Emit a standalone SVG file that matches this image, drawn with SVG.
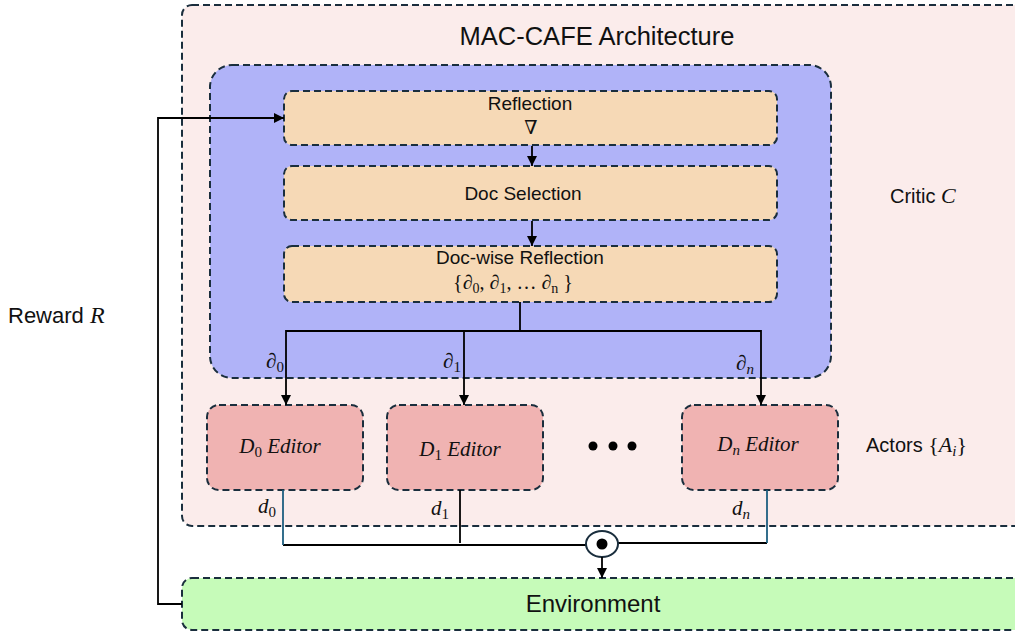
<svg xmlns="http://www.w3.org/2000/svg" width="1015" height="633" viewBox="0 0 1015 633">
<defs>
<marker id="ah" viewBox="0 0 10 10" refX="10" refY="5" markerWidth="10" markerHeight="10" markerUnits="userSpaceOnUse" orient="auto"><path d="M0,0 L10,5 L0,10 z" fill="#000"/></marker>
<style>
.box{stroke:#1a2e3d;stroke-width:2;stroke-dasharray:7 4}
.t{font-family:"Liberation Sans",Arial,sans-serif;fill:#111}
.m{font-family:"Liberation Serif","DejaVu Serif",serif;font-style:italic;fill:#111}
.mr{font-family:"Liberation Serif","DejaVu Serif",serif;fill:#111}
.ln{fill:none;stroke:#000;stroke-width:1.8}
.tl{fill:none;stroke:#1d5f80;stroke-width:1.8}
</style>
</defs>
<rect width="1015" height="633" fill="#fff"/>
<g id="outer"><rect class="box" x="182" y="5" width="860" height="521" rx="10" fill="#fbeceb"/>
<text class="t" x="597" y="45" font-size="25.5" text-anchor="middle">MAC-CAFE Architecture</text></g>
<g id="critic"><rect class="box" x="210" y="65" width="621" height="313" rx="22" fill="#b0b3f8"/>
<text class="t" x="890" y="203" font-size="20">Critic <tspan class="m" font-size="22">C</tspan></text></g>
<g id="reflection"><rect class="box" x="284" y="91" width="493" height="54" rx="8" fill="#f6d9b6"/>
<text class="t" x="530" y="110" font-size="19" text-anchor="middle">Reflection</text>
<text class="mr" x="531" y="134" font-size="19" text-anchor="middle">∇</text></g>
<g id="docsel"><rect class="box" x="284" y="166" width="493" height="54" rx="8" fill="#f6d9b6"/>
<text class="t" x="523" y="200" font-size="19" text-anchor="middle">Doc Selection</text></g>
<g id="docwise"><rect class="box" x="284" y="246" width="493" height="56" rx="8" fill="#f6d9b6"/>
<text class="t" x="520" y="264" font-size="19" text-anchor="middle">Doc-wise Reflection</text>
<text class="mr" x="513" y="289" font-size="20" text-anchor="middle">{<tspan font-style="italic">∂</tspan><tspan font-size="14" dy="4">0</tspan><tspan dy="-4">, </tspan><tspan font-style="italic">∂</tspan><tspan font-size="14" dy="4">1</tspan><tspan dy="-4">, … </tspan><tspan font-style="italic">∂</tspan><tspan font-size="14" dy="4">n</tspan><tspan dy="-4">  }</tspan></text></g>
<g id="ed0"><rect class="box" x="207" y="405" width="156" height="85" rx="12" fill="#f0b3b2"/>
<text class="m" x="280" y="453" font-size="21" text-anchor="middle">D<tspan font-style="normal" font-size="15" dy="4">0</tspan><tspan dy="-4"> Editor</tspan></text></g>
<g id="ed1"><rect class="box" x="387" y="405" width="156" height="85" rx="12" fill="#f0b3b2"/>
<text class="m" x="460" y="456" font-size="21" text-anchor="middle">D<tspan font-style="normal" font-size="15" dy="4">1</tspan><tspan dy="-4"> Editor</tspan></text></g>
<g id="edn"><rect class="box" x="682" y="405" width="156" height="85" rx="12" fill="#f0b3b2"/>
<text class="m" x="758" y="451" font-size="21" text-anchor="middle">D<tspan font-size="15" dy="4">n</tspan><tspan dy="-4"> Editor</tspan></text></g>
<g id="dots"><circle cx="593" cy="446" r="4.5" fill="#000"/><circle cx="613" cy="446" r="4.5" fill="#000"/><circle cx="632" cy="446" r="4.5" fill="#000"/></g>
<g id="actors"><text class="t" x="866" y="452" font-size="20">Actors <tspan class="mr" font-size="22">{</tspan><tspan class="m" font-size="22">A</tspan><tspan class="m" font-size="15" dy="4">i</tspan><tspan class="mr" font-size="22" dy="-4">}</tspan></text></g>
<g id="env"><rect class="box" x="182" y="578" width="860" height="52" rx="10" fill="#c6fbb9"/>
<text class="t" x="593" y="612" font-size="24" text-anchor="middle">Environment</text></g>
<g id="reward"><text class="t" x="8" y="323" font-size="22">Reward <tspan class="m" font-size="24">R</tspan></text></g>
<g id="connectors">
<line class="ln" x1="532" y1="146" x2="532" y2="166" marker-end="url(#ah)"/>
<line class="ln" x1="532" y1="221" x2="532" y2="246" marker-end="url(#ah)"/>
<polyline class="ln" points="520,302 520,331 286,331 286,405" marker-end="url(#ah)"/>
<polyline class="ln" points="520,331 464,331 464,405" marker-end="url(#ah)"/>
<polyline class="ln" points="520,331 761,331 761,405" marker-end="url(#ah)"/>
<polyline class="ln" points="182,604 158,604 158,118 284,118" marker-end="url(#ah)"/>
<polyline class="ln" points="283,545 586,545"/>
<line class="tl" x1="283" y1="490" x2="283" y2="545"/>
<line class="ln" x1="460" y1="490" x2="460" y2="543"/>
<polyline class="ln" points="618,543 767,543"/>
<line class="tl" x1="767" y1="490" x2="767" y2="543"/>
<ellipse cx="602" cy="544" rx="16" ry="13" fill="#fff" stroke="#1a2e3d" stroke-width="2"/>
<circle cx="602" cy="544" r="5.5" fill="#000"/>
<line class="ln" x1="602" y1="557" x2="602" y2="578" marker-end="url(#ah)"/>
</g>
<g id="labels">
<text class="m" x="275" y="368" font-size="21" text-anchor="middle">∂<tspan font-style="normal" font-size="15" dy="4">0</tspan></text>
<text class="m" x="452" y="368" font-size="21" text-anchor="middle">∂<tspan font-style="normal" font-size="15" dy="4">1</tspan></text>
<text class="m" x="745" y="370" font-size="21" text-anchor="middle">∂<tspan font-size="15" dy="4">n</tspan></text>
<text class="m" x="267" y="513" font-size="21" text-anchor="middle">d<tspan font-style="normal" font-size="15" dy="4">0</tspan></text>
<text class="m" x="440" y="515" font-size="21" text-anchor="middle">d<tspan font-style="normal" font-size="15" dy="4">1</tspan></text>
<text class="m" x="741" y="515" font-size="21" text-anchor="middle">d<tspan font-size="15" dy="4">n</tspan></text>
</g>
</svg>
